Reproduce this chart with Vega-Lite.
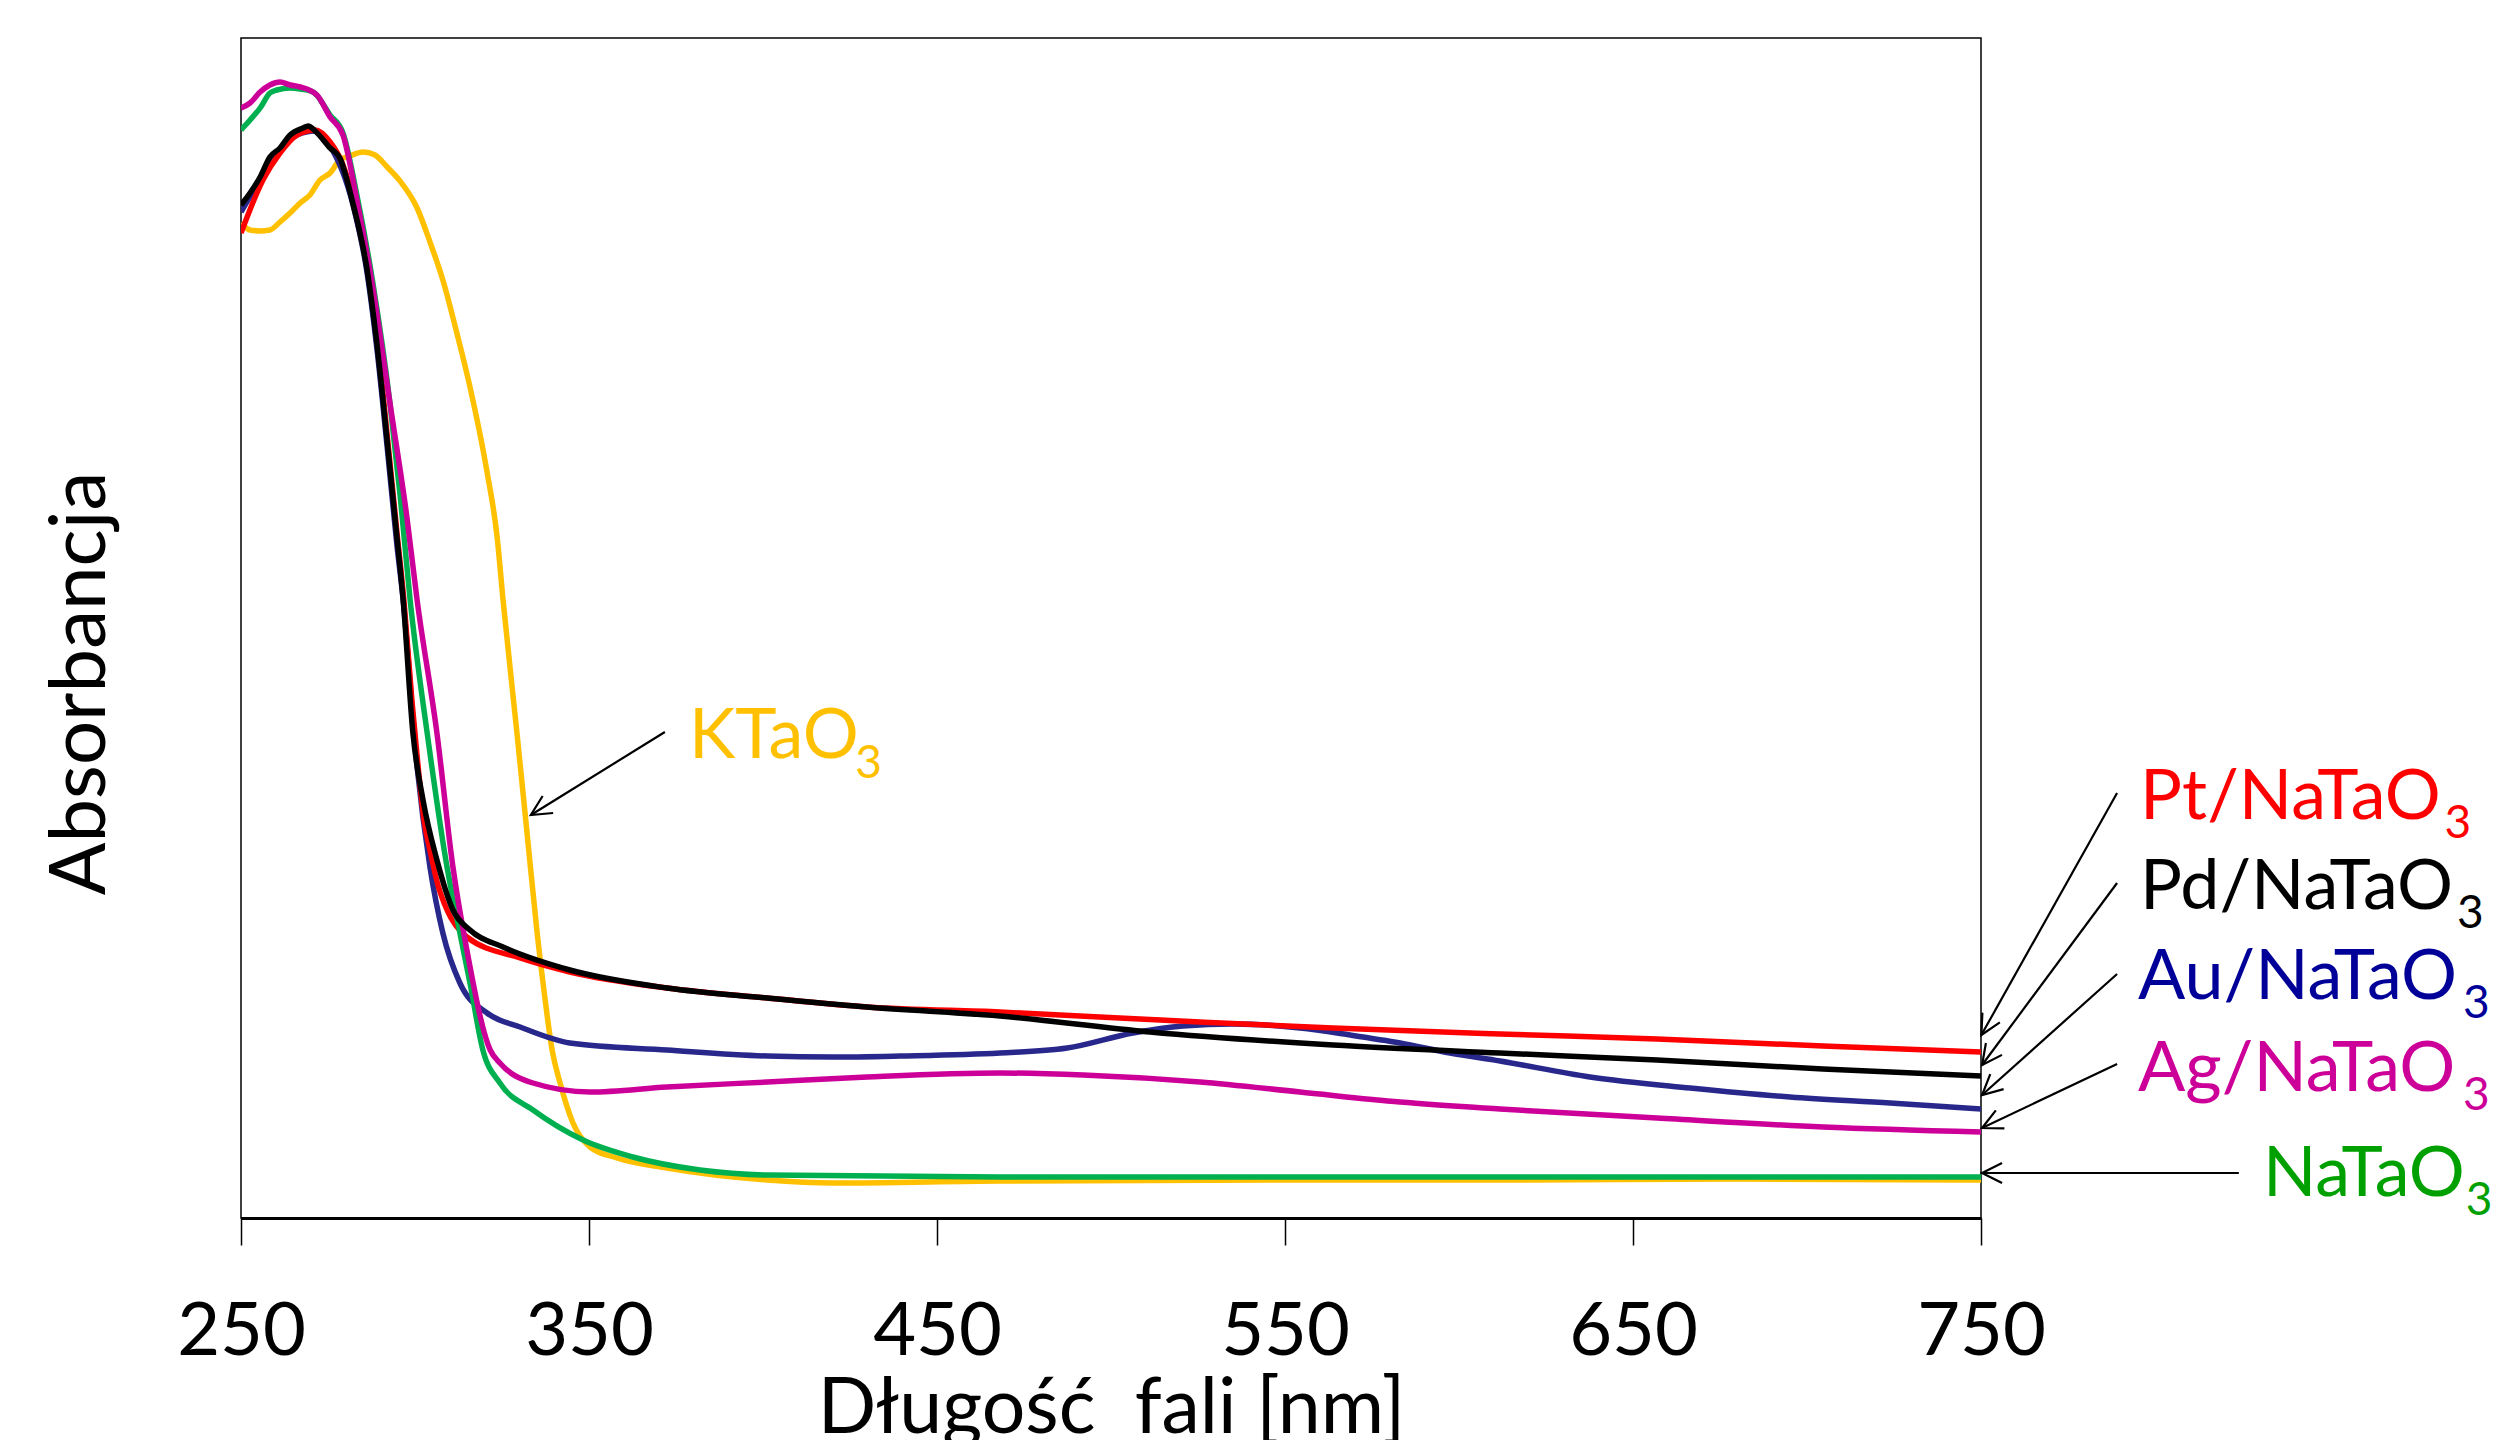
{
  "$schema": "https://vega.github.io/schema/vega-lite/v6.json",
  "width": 1740,
  "height": 1180,
  "autosize": {"type": "none"},
  "padding": {"left": 241, "top": 38, "right": 519, "bottom": 222},
  "background": "white",
  "config": {
    "view": {"stroke": "#000000", "strokeWidth": 1.5},
    "font": "Lato",
    "axis": {"grid": false}
  },
  "datasets": {
    "spectra": [
      {"s":"KTaO3","nm":250,"a":0.995},{"s":"KTaO3","nm":252.6,"a":0.988},{"s":"KTaO3","nm":255.5,"a":0.987},{"s":"KTaO3","nm":258.3,"a":0.988},{"s":"KTaO3","nm":261.2,"a":0.996},{"s":"KTaO3","nm":264.1,"a":1.005},{"s":"KTaO3","nm":267,"a":1.015},{"s":"KTaO3","nm":269.8,"a":1.023},{"s":"KTaO3","nm":272.7,"a":1.038},{"s":"KTaO3","nm":275.6,"a":1.045},{"s":"KTaO3","nm":278.4,"a":1.058},{"s":"KTaO3","nm":281.3,"a":1.062},{"s":"KTaO3","nm":285.1,"a":1.066},{"s":"KTaO3","nm":288.5,"a":1.063},{"s":"KTaO3","nm":292,"a":1.051},{"s":"KTaO3","nm":295.7,"a":1.037},{"s":"KTaO3","nm":300.6,"a":1.01},{"s":"KTaO3","nm":304.3,"a":0.976},{"s":"KTaO3","nm":308,"a":0.938},{"s":"KTaO3","nm":312.1,"a":0.884},{"s":"KTaO3","nm":315.8,"a":0.831},{"s":"KTaO3","nm":320.7,"a":0.746},{"s":"KTaO3","nm":323.6,"a":0.681},{"s":"KTaO3","nm":325.3,"a":0.618},{"s":"KTaO3","nm":329.3,"a":0.485},{"s":"KTaO3","nm":332.2,"a":0.385},{"s":"KTaO3","nm":335.1,"a":0.285},{"s":"KTaO3","nm":337.4,"a":0.218},{"s":"KTaO3","nm":339.4,"a":0.168},{"s":"KTaO3","nm":341.7,"a":0.135},{"s":"KTaO3","nm":345.4,"a":0.095},{"s":"KTaO3","nm":350.3,"a":0.071},{"s":"KTaO3","nm":358,"a":0.06},{"s":"KTaO3","nm":372.4,"a":0.05},{"s":"KTaO3","nm":401.2,"a":0.038},{"s":"KTaO3","nm":420.1,"a":0.035},{"s":"KTaO3","nm":468.1,"a":0.037},{"s":"KTaO3","nm":550,"a":0.038},{"s":"KTaO3","nm":611.8,"a":0.038},{"s":"KTaO3","nm":680,"a":0.039},{"s":"KTaO3","nm":750,"a":0.038},

      {"s":"Au/NaTaO3","nm":250,"a":1.006},{"s":"Au/NaTaO3","nm":255.5,"a":1.038},{"s":"Au/NaTaO3","nm":261.2,"a":1.068},{"s":"Au/NaTaO3","nm":266.1,"a":1.083},{"s":"Au/NaTaO3","nm":271.3,"a":1.087},{"s":"Au/NaTaO3","nm":275.6,"a":1.072},{"s":"Au/NaTaO3","nm":282.2,"a":1.013},{"s":"Au/NaTaO3","nm":286.2,"a":0.946},{"s":"Au/NaTaO3","nm":289.1,"a":0.868},{"s":"Au/NaTaO3","nm":292,"a":0.771},{"s":"Au/NaTaO3","nm":294.8,"a":0.673},{"s":"Au/NaTaO3","nm":296.6,"a":0.618},{"s":"Au/NaTaO3","nm":300.6,"a":0.451},{"s":"Au/NaTaO3","nm":304.3,"a":0.351},{"s":"Au/NaTaO3","nm":308,"a":0.285},{"s":"Au/NaTaO3","nm":312.9,"a":0.235},{"s":"Au/NaTaO3","nm":320.7,"a":0.205},{"s":"Au/NaTaO3","nm":330.2,"a":0.191},{"s":"Au/NaTaO3","nm":344.5,"a":0.175},{"s":"Au/NaTaO3","nm":372.4,"a":0.168},{"s":"Au/NaTaO3","nm":401.2,"a":0.162},{"s":"Au/NaTaO3","nm":420.1,"a":0.161},{"s":"Au/NaTaO3","nm":439.4,"a":0.162},{"s":"Au/NaTaO3","nm":468.1,"a":0.165},{"s":"Au/NaTaO3","nm":487.4,"a":0.17},{"s":"Au/NaTaO3","nm":506.3,"a":0.185},{"s":"Au/NaTaO3","nm":520.7,"a":0.192},{"s":"Au/NaTaO3","nm":535.1,"a":0.194},{"s":"Au/NaTaO3","nm":554.3,"a":0.19},{"s":"Au/NaTaO3","nm":568.7,"a":0.183},{"s":"Au/NaTaO3","nm":583.1,"a":0.175},{"s":"Au/NaTaO3","nm":597.4,"a":0.165},{"s":"Au/NaTaO3","nm":611.8,"a":0.157},{"s":"Au/NaTaO3","nm":637.6,"a":0.141},{"s":"Au/NaTaO3","nm":666.4,"a":0.13},{"s":"Au/NaTaO3","nm":695.1,"a":0.121},{"s":"Au/NaTaO3","nm":723.9,"a":0.115},{"s":"Au/NaTaO3","nm":750,"a":0.109},

      {"s":"Pt/NaTaO3","nm":250,"a":0.985},{"s":"Pt/NaTaO3","nm":256.3,"a":1.038},{"s":"Pt/NaTaO3","nm":261.2,"a":1.065},{"s":"Pt/NaTaO3","nm":266.1,"a":1.083},{"s":"Pt/NaTaO3","nm":271.3,"a":1.088},{"s":"Pt/NaTaO3","nm":275.6,"a":1.076},{"s":"Pt/NaTaO3","nm":279.3,"a":1.053},{"s":"Pt/NaTaO3","nm":282.2,"a":1.02},{"s":"Pt/NaTaO3","nm":286.2,"a":0.956},{"s":"Pt/NaTaO3","nm":289.1,"a":0.88},{"s":"Pt/NaTaO3","nm":292,"a":0.783},{"s":"Pt/NaTaO3","nm":294.8,"a":0.686},{"s":"Pt/NaTaO3","nm":296.8,"a":0.618},{"s":"Pt/NaTaO3","nm":299.1,"a":0.518},{"s":"Pt/NaTaO3","nm":300.9,"a":0.451},{"s":"Pt/NaTaO3","nm":302.6,"a":0.398},{"s":"Pt/NaTaO3","nm":304.3,"a":0.368},{"s":"Pt/NaTaO3","nm":306.6,"a":0.333},{"s":"Pt/NaTaO3","nm":309.2,"a":0.308},{"s":"Pt/NaTaO3","nm":314.9,"a":0.281},{"s":"Pt/NaTaO3","nm":330.2,"a":0.26},{"s":"Pt/NaTaO3","nm":344.5,"a":0.246},{"s":"Pt/NaTaO3","nm":372.4,"a":0.23},{"s":"Pt/NaTaO3","nm":401.2,"a":0.22},{"s":"Pt/NaTaO3","nm":429.9,"a":0.211},{"s":"Pt/NaTaO3","nm":468.1,"a":0.206},{"s":"Pt/NaTaO3","nm":525.6,"a":0.196},{"s":"Pt/NaTaO3","nm":563.8,"a":0.19},{"s":"Pt/NaTaO3","nm":611.8,"a":0.184},{"s":"Pt/NaTaO3","nm":656.9,"a":0.179},{"s":"Pt/NaTaO3","nm":704.6,"a":0.172},{"s":"Pt/NaTaO3","nm":750,"a":0.166},

      {"s":"NaTaO3","nm":250,"a":1.088},{"s":"NaTaO3","nm":252.6,"a":1.098},{"s":"NaTaO3","nm":255.5,"a":1.11},{"s":"NaTaO3","nm":258.3,"a":1.125},{"s":"NaTaO3","nm":260.3,"a":1.128},{"s":"NaTaO3","nm":264.1,"a":1.13},{"s":"NaTaO3","nm":267,"a":1.129},{"s":"NaTaO3","nm":270.7,"a":1.126},{"s":"NaTaO3","nm":275.6,"a":1.103},{"s":"NaTaO3","nm":279.3,"a":1.085},{"s":"NaTaO3","nm":283.3,"a":1.023},{"s":"NaTaO3","nm":287.9,"a":0.935},{"s":"NaTaO3","nm":292.8,"a":0.815},{"s":"NaTaO3","nm":295.8,"a":0.72},{"s":"NaTaO3","nm":298.6,"a":0.618},{"s":"NaTaO3","nm":303.5,"a":0.485},{"s":"NaTaO3","nm":309.2,"a":0.351},{"s":"NaTaO3","nm":312.9,"a":0.285},{"s":"NaTaO3","nm":315.8,"a":0.235},{"s":"NaTaO3","nm":319.5,"a":0.168},{"s":"NaTaO3","nm":324.4,"a":0.135},{"s":"NaTaO3","nm":333.9,"a":0.108},{"s":"NaTaO3","nm":348.3,"a":0.078},{"s":"NaTaO3","nm":362.6,"a":0.061},{"s":"NaTaO3","nm":381.9,"a":0.048},{"s":"NaTaO3","nm":401.2,"a":0.043},{"s":"NaTaO3","nm":468.1,"a":0.041},{"s":"NaTaO3","nm":550,"a":0.041},{"s":"NaTaO3","nm":611.8,"a":0.041},{"s":"NaTaO3","nm":680,"a":0.041},{"s":"NaTaO3","nm":750,"a":0.041},

      {"s":"Ag/NaTaO3","nm":250,"a":1.11},{"s":"Ag/NaTaO3","nm":252.6,"a":1.115},{"s":"Ag/NaTaO3","nm":255.5,"a":1.126},{"s":"Ag/NaTaO3","nm":258.3,"a":1.133},{"s":"Ag/NaTaO3","nm":261.2,"a":1.136},{"s":"Ag/NaTaO3","nm":264.1,"a":1.133},{"s":"Ag/NaTaO3","nm":267,"a":1.131},{"s":"Ag/NaTaO3","nm":271.8,"a":1.123},{"s":"Ag/NaTaO3","nm":275.6,"a":1.101},{"s":"Ag/NaTaO3","nm":279.3,"a":1.083},{"s":"Ag/NaTaO3","nm":283.3,"a":1.018},{"s":"Ag/NaTaO3","nm":287.9,"a":0.93},{"s":"Ag/NaTaO3","nm":292.8,"a":0.815},{"s":"Ag/NaTaO3","nm":297.7,"a":0.7},{"s":"Ag/NaTaO3","nm":300.6,"a":0.618},{"s":"Ag/NaTaO3","nm":306.3,"a":0.485},{"s":"Ag/NaTaO3","nm":310.9,"a":0.351},{"s":"Ag/NaTaO3","nm":314.9,"a":0.268},{"s":"Ag/NaTaO3","nm":321.6,"a":0.168},{"s":"Ag/NaTaO3","nm":324.4,"a":0.155},{"s":"Ag/NaTaO3","nm":333.9,"a":0.135},{"s":"Ag/NaTaO3","nm":350.3,"a":0.126},{"s":"Ag/NaTaO3","nm":372.4,"a":0.131},{"s":"Ag/NaTaO3","nm":401.2,"a":0.136},{"s":"Ag/NaTaO3","nm":429.9,"a":0.141},{"s":"Ag/NaTaO3","nm":468.1,"a":0.145},{"s":"Ag/NaTaO3","nm":492,"a":0.143},{"s":"Ag/NaTaO3","nm":525.6,"a":0.136},{"s":"Ag/NaTaO3","nm":554.3,"a":0.126},{"s":"Ag/NaTaO3","nm":583.1,"a":0.116},{"s":"Ag/NaTaO3","nm":611.8,"a":0.109},{"s":"Ag/NaTaO3","nm":656.9,"a":0.1},{"s":"Ag/NaTaO3","nm":704.6,"a":0.091},{"s":"Ag/NaTaO3","nm":750,"a":0.086},

      {"s":"Pd/NaTaO3","nm":250,"a":1.013},{"s":"Pd/NaTaO3","nm":252.6,"a":1.025},{"s":"Pd/NaTaO3","nm":255.5,"a":1.041},{"s":"Pd/NaTaO3","nm":258.3,"a":1.061},{"s":"Pd/NaTaO3","nm":261.2,"a":1.07},{"s":"Pd/NaTaO3","nm":264.1,"a":1.083},{"s":"Pd/NaTaO3","nm":267.8,"a":1.09},{"s":"Pd/NaTaO3","nm":269.3,"a":1.092},{"s":"Pd/NaTaO3","nm":271.3,"a":1.087},{"s":"Pd/NaTaO3","nm":275.6,"a":1.07},{"s":"Pd/NaTaO3","nm":278.4,"a":1.06},{"s":"Pd/NaTaO3","nm":282.2,"a":1.014},{"s":"Pd/NaTaO3","nm":286.2,"a":0.949},{"s":"Pd/NaTaO3","nm":289.1,"a":0.873},{"s":"Pd/NaTaO3","nm":292,"a":0.777},{"s":"Pd/NaTaO3","nm":294.8,"a":0.681},{"s":"Pd/NaTaO3","nm":296.6,"a":0.618},{"s":"Pd/NaTaO3","nm":299.4,"a":0.485},{"s":"Pd/NaTaO3","nm":302.3,"a":0.418},{"s":"Pd/NaTaO3","nm":306.3,"a":0.358},{"s":"Pd/NaTaO3","nm":310.9,"a":0.308},{"s":"Pd/NaTaO3","nm":315.8,"a":0.288},{"s":"Pd/NaTaO3","nm":325.3,"a":0.271},{"s":"Pd/NaTaO3","nm":344.5,"a":0.248},{"s":"Pd/NaTaO3","nm":372.4,"a":0.23},{"s":"Pd/NaTaO3","nm":401.2,"a":0.22},{"s":"Pd/NaTaO3","nm":429.9,"a":0.211},{"s":"Pd/NaTaO3","nm":468.1,"a":0.202},{"s":"Pd/NaTaO3","nm":511.2,"a":0.186},{"s":"Pd/NaTaO3","nm":563.8,"a":0.173},{"s":"Pd/NaTaO3","nm":611.8,"a":0.165},{"s":"Pd/NaTaO3","nm":656.9,"a":0.158},{"s":"Pd/NaTaO3","nm":704.6,"a":0.149},{"s":"Pd/NaTaO3","nm":750,"a":0.142}
    ],
    "labels": [
      {"s":"Pt/NaTaO3","t":"Pt/NaTaO","nm":795.7,"a":0.399},
      {"s":"Pd/NaTaO3","t":"Pd/NaTaO","nm":795.7,"a":0.309},
      {"s":"Au/NaTaO3","t":"Au/NaTaO","nm":795.1,"a":0.219},
      {"s":"Ag/NaTaO3","t":"Ag/NaTaO","nm":795.1,"a":0.127},
      {"s":"NaTaO3","t":"NaTaO","nm":831.0,"a":0.022},
      {"s":"KTaO3","t":"KTaO","nm":378.7,"a":0.46}
    ],
    "subs": [
      {"s":"Pt/NaTaO3","t":"3","nm":883.2,"a":0.38},
      {"s":"Pd/NaTaO3","t":"3","nm":886.8,"a":0.29},
      {"s":"Au/NaTaO3","t":"3","nm":888.5,"a":0.2},
      {"s":"Ag/NaTaO3","t":"3","nm":888.5,"a":0.108},
      {"s":"NaTaO3","t":"3","nm":889.3,"a":0.003},
      {"s":"KTaO3","t":"3","nm":426.5,"a":0.44}
    ],
    "arrows": [
      {"s":"Pt/NaTaO3","nm":789.1,"a":0.425,"nm2":750.1,"a2":0.183,"ang":-60.76},
      {"s":"Pd/NaTaO3","nm":789.1,"a":0.335,"nm2":750.3,"a2":0.153,"ang":-53.44},
      {"s":"Au/NaTaO3","nm":789.1,"a":0.244,"nm2":750.3,"a2":0.123,"ang":-41.87},
      {"s":"Ag/NaTaO3","nm":789.1,"a":0.154,"nm2":750.3,"a2":0.09,"ang":-25.37},
      {"s":"NaTaO3","nm":824.1,"a":0.045,"nm2":750.3,"a2":0.045,"ang":0},
      {"s":"KTaO3","nm":371.8,"a":0.486,"nm2":333.3,"a2":0.403,"ang":-31.77}
    ]
  },
  "resolve": {"scale": {"color": "independent"}},
  "layer": [
    {
      "data": {"name": "spectra"},
      "mark": {"type": "line", "strokeWidth": 5.5, "interpolate": "monotone", "clip": true},
      "encoding": {
        "x": {"field": "nm", "type": "quantitative",
              "scale": {"domain": [250, 750], "nice": false, "zero": false},
              "axis": {"title": "Długość \u00a0fali [nm]", "values": [250, 350, 450, 550, 650, 750],
                       "tickSize": 27, "tickWidth": 1.5, "tickColor": "#000000",
                       "domainColor": "#000000", "domainWidth": 3,
                       "labelFontSize": 74, "labelFont": "Lato", "labelColor": "#000000",
                       "labelBaseline": "alphabetic", "labelPadding": 109, "labelFlush": false,
                       "labelOverlap": false,
                       "titleFontSize": 77, "titleFont": "Lato", "titleFontWeight": "normal",
                       "titleColor": "#000000", "titleBaseline": "alphabetic", "titleY": 214}},
        "y": {"field": "a", "type": "quantitative",
              "scale": {"domain": [0, 1.18], "nice": false, "zero": false},
              "axis": {"title": "Absorbancja", "labels": false, "ticks": false, "domain": false,
                       "titleFontSize": 78, "titleFont": "Lato", "titleFontWeight": "normal",
                       "titleColor": "#000000", "titleBaseline": "alphabetic",
                       "titleX": -137, "titleY": 645, "titleAngle": 270, "titleAlign": "center"}},
        "color": {"field": "s", "type": "nominal", "legend": null,
                  "scale": {"domain": ["KTaO3", "Au/NaTaO3", "Pt/NaTaO3", "NaTaO3", "Ag/NaTaO3", "Pd/NaTaO3"],
                            "range": ["#FFC000", "#28288C", "#FF0000", "#00B050", "#CC0099", "#000000"]}}
      }
    },
    {
      "data": {"name": "arrows"},
      "mark": {"type": "rule", "strokeWidth": 2.2, "color": "#000000"},
      "encoding": {
        "x": {"field": "nm", "type": "quantitative", "scale": {"domain": [250, 750], "nice": false, "zero": false}},
        "y": {"field": "a", "type": "quantitative", "scale": {"domain": [0, 1.18], "nice": false, "zero": false}},
        "x2": {"field": "nm2"},
        "y2": {"field": "a2"}
      }
    },
    {
      "data": {"name": "arrows"},
      "mark": {"type": "point", "shape": "M1,-0.5L0,0L1,0.5", "filled": false, "size": 1600, "strokeWidth": 2.2, "color": "#000000", "opacity": 1},
      "encoding": {
        "x": {"field": "nm2", "type": "quantitative", "scale": {"domain": [250, 750], "nice": false, "zero": false}},
        "y": {"field": "a2", "type": "quantitative", "scale": {"domain": [0, 1.18], "nice": false, "zero": false}},
        "angle": {"field": "ang", "type": "quantitative", "scale": null}
      }
    },
    {
      "data": {"name": "labels"},
      "mark": {"type": "text", "align": "left", "baseline": "alphabetic", "font": "Lato", "fontSize": 70},
      "encoding": {
        "x": {"field": "nm", "type": "quantitative", "scale": {"domain": [250, 750], "nice": false, "zero": false}},
        "y": {"field": "a", "type": "quantitative", "scale": {"domain": [0, 1.18], "nice": false, "zero": false}},
        "text": {"field": "t"},
        "color": {"field": "s", "type": "nominal", "legend": null,
                  "scale": {"domain": ["KTaO3", "Au/NaTaO3", "Pt/NaTaO3", "NaTaO3", "Ag/NaTaO3", "Pd/NaTaO3"],
                            "range": ["#FFC000", "#000099", "#FF0000", "#00A000", "#CC0099", "#000000"]}}
      }
    },
    {
      "data": {"name": "subs"},
      "mark": {"type": "text", "align": "left", "baseline": "alphabetic", "font": "Lato", "fontSize": 46},
      "encoding": {
        "x": {"field": "nm", "type": "quantitative", "scale": {"domain": [250, 750], "nice": false, "zero": false}},
        "y": {"field": "a", "type": "quantitative", "scale": {"domain": [0, 1.18], "nice": false, "zero": false}},
        "text": {"field": "t"},
        "color": {"field": "s", "type": "nominal", "legend": null,
                  "scale": {"domain": ["KTaO3", "Au/NaTaO3", "Pt/NaTaO3", "NaTaO3", "Ag/NaTaO3", "Pd/NaTaO3"],
                            "range": ["#FFC000", "#000099", "#FF0000", "#00A000", "#CC0099", "#000000"]}}
      }
    }
  ]
}
